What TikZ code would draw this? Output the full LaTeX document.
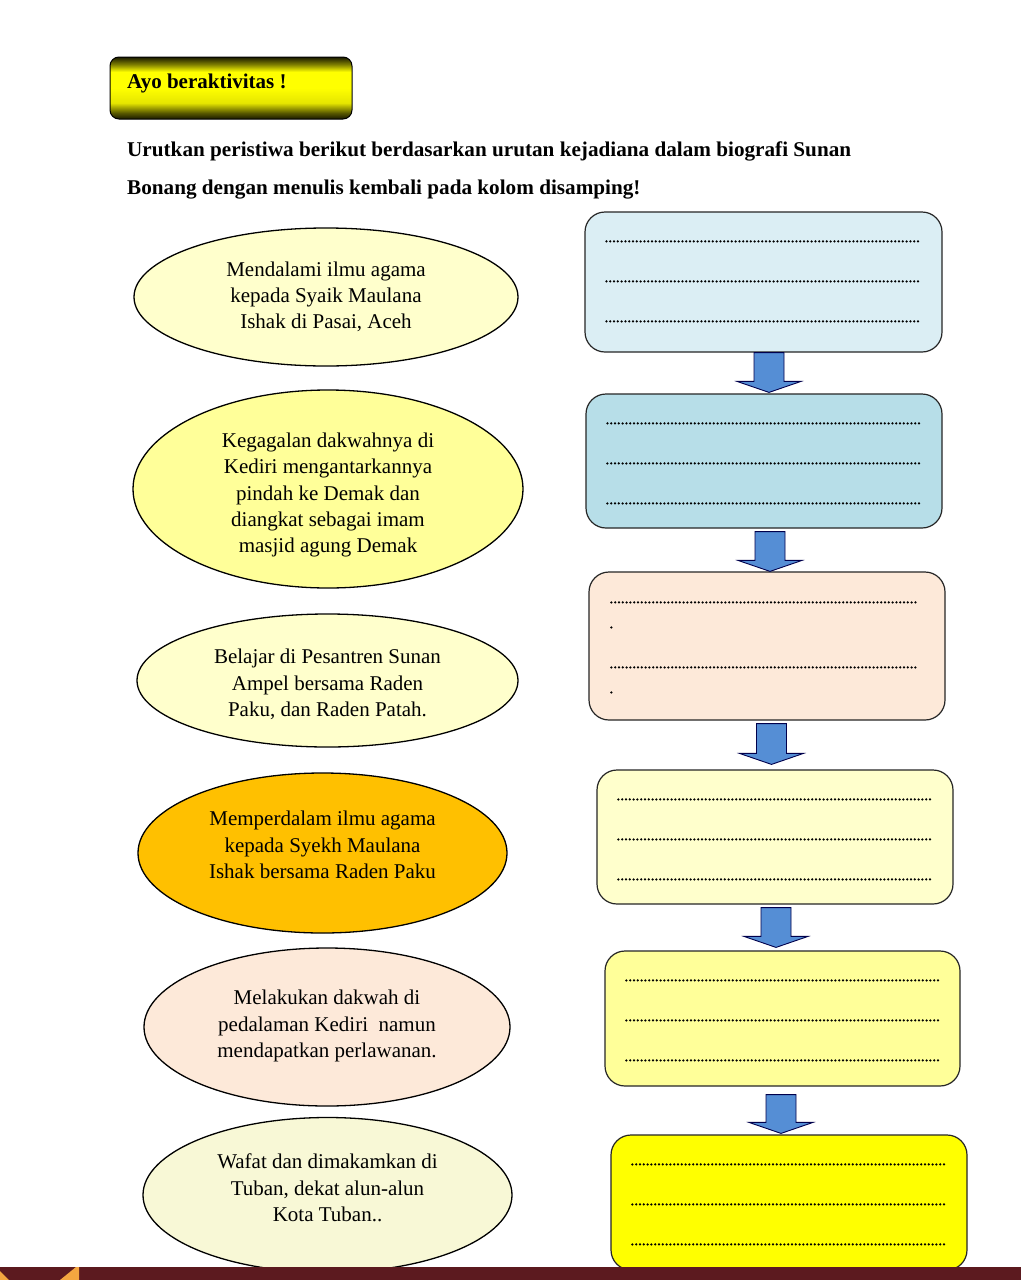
\documentclass[tikz,border=0pt]{standalone}
\usepackage{fontspec}
\setmainfont{Liberation Serif}
\usepackage{graphicx}
\usetikzlibrary{shapes.geometric,calc}
\definecolor{e1c}{HTML}{FFFFCC}
\definecolor{e2c}{HTML}{FFFF99}
\definecolor{e4c}{HTML}{FFC000}
\definecolor{e5c}{HTML}{FDE9D9}
\definecolor{e6c}{HTML}{F8F8D6}
\definecolor{b1c}{HTML}{DBEEF4}
\definecolor{b2c}{HTML}{B7DEE8}
\definecolor{b3c}{HTML}{FDE9D9}
\definecolor{b4c}{HTML}{FFFFCC}
\definecolor{b5c}{HTML}{FFFF99}
\definecolor{b6c}{HTML}{FFFF00}
\definecolor{arrc}{HTML}{558ED5}
\definecolor{barc}{HTML}{5C1A1F}
\definecolor{orc}{HTML}{F4A640}
\pgfdeclareverticalshading{ayoshade}{100bp}{color(0bp)=(black!90!yellow); color(25bp)=(black!90!yellow); color(30bp)=(yellow!35!black); color(38bp)=(yellow!90!black); color(50bp)=(yellow); color(63bp)=(yellow); color(69bp)=(yellow!50!black); color(75bp)=(black!90!yellow); color(100bp)=(black!90!yellow)}
\newcommand\bodyfont{\fontsize{21}{26.3}\selectfont}
\newcommand\instfont{\fontsize{21}{26}\selectfont\bfseries}
\newlength\instlen
\newcommand\blockarrow[5]{%
  \draw[barrow] let \p1=($(#1.south)+(#3,#4)$), \p2=($(#2.north)+(#3,-#5)$) in
   (\x1-15pt,\y1) -- (\x1+15pt,\y1) -- (\x1+15pt,\y2+11pt) -- (\x1+32pt,\y2+11pt)
   -- (\x1,\y2) -- (\x1-32pt,\y2+11pt) -- (\x1-15pt,\y2+11pt) -- cycle;}
\settowidth{\instlen}{\instfont Urutkan peristiwa berikut berdasarkan urutan kejadiana dalam biografi Sunan}
\pgfmathsetmacro\instsx{724/\instlen}
\begin{document}
\begin{tikzpicture}[x=1pt,y=-1pt,
  ell/.style={ellipse, draw=black, line width=1.3pt, inner sep=0pt},
  etext/.style={inner sep=0pt, align=center, font=\bodyfont},
  answerbox/.style={rectangle, rounded corners=20pt, draw=black!85, line width=1.2pt, inner sep=0pt},
  dots/.style={line width=2.5pt, line cap=round, dash pattern=on 0pt off 3.8pt},
  barrow/.style={fill=arrc, draw=black!70!blue, line width=0.9pt, line join=miter}]
\useasboundingbox (0,0) rectangle (1021,1280);
\fill[white] (0,0) rectangle (1021,1280);

% title box
\shade[shading=ayoshade, draw=black, line width=1pt, rounded corners=9pt] (110,57) rectangle (352,119);
\node[anchor=base west, inner sep=0pt, font=\instfont] (ttl) at (127,88) {Ayo beraktivitas !};

% instruction
\node[anchor=base west, inner sep=0pt] (ins1) at (127,156) {\scalebox{\instsx}[1]{\instfont Urutkan peristiwa berikut berdasarkan urutan kejadiana dalam biografi Sunan}};
\node[anchor=base west, inner sep=0pt] (ins2) at (127,194) {\scalebox{\instsx}[1]{\instfont Bonang dengan menulis kembali pada kolom disamping!}};

% ellipses
\node[ell, fill=e1c, minimum width=384pt, minimum height=138pt] (e1) at (326,297) {};
\node[ell, fill=e2c, minimum width=390pt, minimum height=198pt] (e2) at (328,489) {};
\node[ell, fill=e1c, minimum width=381pt, minimum height=133pt] (e3) at (327.5,680.5) {};
\node[ell, fill=e4c, minimum width=369pt, minimum height=160pt] (e4) at (322.5,853) {};
\node[ell, fill=e5c, minimum width=366pt, minimum height=158pt] (e5) at (327,1027) {};
\node[ell, fill=e6c, minimum width=369pt, minimum height=155pt] (e6) at (327.5,1195) {};

\node[etext] (t1) at ($(e1)+(0,0)$) {Mendalami ilmu agama\\kepada Syaik Maulana\\Ishak di Pasai, Aceh};
\node[etext] (t2) at ($(e2)+(0,6)$) {Kegagalan dakwahnya di\\Kediri mengantarkannya\\pindah ke Demak dan\\diangkat sebagai imam\\masjid agung Demak};
\node[etext] (t3) at ($(e3)+(0,4)$) {Belajar di Pesantren Sunan\\Ampel bersama Raden\\Paku, dan Raden Patah.};
\node[etext] (t4) at ($(e4)+(0,-8)$) {Memperdalam ilmu agama\\kepada Syekh Maulana\\Ishak bersama Raden Paku};
\node[etext] (t5) at ($(e5)+(0,-1)$) {Melakukan dakwah di\\pedalaman Kediri\ \ namun\\mendapatkan perlawanan.};
\node[etext] (t6) at ($(e6)+(0,-7)$) {Wafat dan dimakamkan di\\Tuban, dekat alun-alun\\Kota Tuban..};

% answer boxes
\node[answerbox, fill=b1c, minimum width=357pt, minimum height=140pt] (b1) at (763.5,282) {};
\node[answerbox, fill=b2c, minimum width=356pt, minimum height=134pt] (b2) at (764,461) {};
\node[answerbox, fill=b3c, minimum width=356pt, minimum height=148pt] (b3) at (767,646) {};
\node[answerbox, fill=b4c, minimum width=356pt, minimum height=134pt] (b4) at (775,837) {};
\node[answerbox, fill=b5c, minimum width=355pt, minimum height=135pt] (b5) at (782.5,1018.5) {};
\node[answerbox, fill=b6c, minimum width=356pt, minimum height=135pt] (b6) at (789,1202.5) {};

% dotted lines
\foreach \b in {b1,b2,b4,b5,b6}
  \foreach \o in {30,70,110}
    \draw[dots] ($(\b.north west)+(22,\o)$) -- ($(\b.north east)+(-22,\o)$);
\foreach \o in {31,96}
  \draw[dots] ($(b3.north west)+(23,\o)$) -- ($(b3.north east)+(-27,\o)$);
\fill ($(b3.north west)+(23,56)$) circle (1.25pt);
\fill ($(b3.north west)+(23,121)$) circle (1.25pt);

% block arrows
\blockarrow{b1}{b2}{5.5}{0}{1}
\blockarrow{b2}{b3}{6}{3}{0}
\blockarrow{b3}{b4}{4.5}{3}{5}
\blockarrow{b4}{b5}{1}{3}{3}
\blockarrow{b5}{b6}{-1.5}{8}{1}

% bottom bar
\fill[barc] (0,1267) rectangle (1021,1280);
\fill[orc] (60,1280) -- (76,1267) -- (79,1267) -- (79,1280) -- cycle;
\fill[orc] (0,1271) -- (9,1280) -- (0,1280) -- cycle;
\end{tikzpicture}
\end{document}
